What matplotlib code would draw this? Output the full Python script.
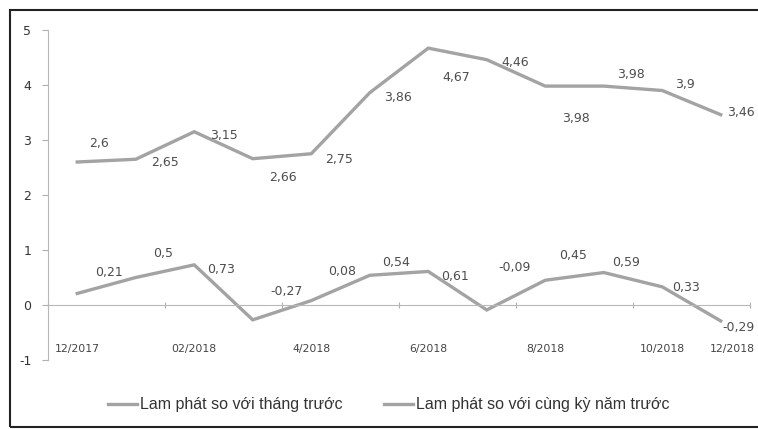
import matplotlib
matplotlib.use("Agg")
import matplotlib.pyplot as plt
from matplotlib.lines import Line2D
from matplotlib.patches import Rectangle

# ---- data ----
months = ["12/2017", "01/2018", "02/2018", "03/2018", "4/2018", "05/2018",
          "6/2018", "07/2018", "8/2018", "09/2018", "10/2018", "11/2018"]
tick_labels = ["12/2017", "02/2018", "4/2018", "6/2018", "8/2018", "10/2018", "12/2018"]
yoy = [2.6, 2.65, 3.15, 2.66, 2.75, 3.86, 4.67, 4.46, 3.98, 3.98, 3.9, 3.46]
mom = [0.21, 0.5, 0.73, -0.27, 0.08, 0.54, 0.61, -0.09, 0.45, 0.59, 0.33, -0.29]
series_names = ["Lam phát so với tháng trước", "Lam phát so với cùng kỳ năm trước"]

# ---- label offsets (pixels) ----
yoy_off = [(22, 19), (29, -3), (30, -4), (30, -19), (28, -6), (28, -5),
           (28, -29), (28, -3), (31, -32), (27, 12), (23, 6), (20, 2)]
mom_off = [(32, 21), (27, 24), (27, -5), (34, 28), (31, 29), (26, 13),
           (27, -5), (28, 42), (28, 25), (22, 10), (24, -1), (18, -7)]

LINE = "#a3a3a3"
TXT = "#4d4d4d"

fig = plt.figure(figsize=(7.58, 4.29), dpi=100)
ax = fig.add_axes([48/758, 1-360/429, (750-48)/758, (360-30)/429])

x = list(range(len(months)))
ax.plot(x, yoy, color=LINE, lw=2.4, solid_joinstyle="miter")
ax.plot(x, mom, color=LINE, lw=2.4, solid_joinstyle="miter")

def fmt(v):
    return ("%g" % v).replace(".", ",")

for xi, v, (dx, dy) in zip(x, yoy, yoy_off):
    ax.annotate(fmt(v), (xi, v), xytext=(dx, dy), textcoords="offset pixels",
                ha="center", va="center", fontsize=9, color=TXT)
for xi, v, (dx, dy) in zip(x, mom, mom_off):
    ax.annotate(fmt(v), (xi, v), xytext=(dx, dy), textcoords="offset pixels",
                ha="center", va="center", fontsize=9, color=TXT)

ax.set_xlim(-0.5, len(months) - 0.5)
ax.set_ylim(-1, 5)
ax.set_yticks([-1, 0, 1, 2, 3, 4, 5])
ax.set_yticklabels(["-1", "0", "1", "2", "3", "4", "5"])
ax.tick_params(axis="y", colors="#b0b0b0", labelcolor="#333333", labelsize=9,
               length=4, width=0.8, pad=8)

for s in ["top", "right"]:
    ax.spines[s].set_visible(False)
ax.spines["left"].set_color("#b8b8b8")
ax.spines["left"].set_linewidth(0.8)
ax.spines["bottom"].set_position(("data", 0))
ax.spines["bottom"].set_color("#b8b8b8")
ax.spines["bottom"].set_linewidth(0.8)

ax.set_xticks([0, 2, 4, 6, 8, 10, 11.2])
ax.set_xticklabels(tick_labels)
ax.set_xticks([-0.5, 1.5, 3.5, 5.5, 7.5, 9.5, 11.5], minor=True)
ax.tick_params(axis="x", which="major", length=0, pad=28, labelsize=7.8,
               labelcolor="#444444")
ax.tick_params(axis="x", which="minor", length=4, width=0.8, color="#b0b0b0",
               direction="inout")
ax.patch.set_alpha(0)

handles = [Line2D([], [], color=LINE, lw=2.4) for _ in series_names]
fig.legend(handles, series_names, loc="center", bbox_to_anchor=(0.513, 0.056),
           ncol=2, frameon=False, handlelength=1.8, handletextpad=0.2,
           columnspacing=2.6,
           prop={"family": "Liberation Sans", "size": 11.5}, labelcolor="#333333")

fig.patches.append(Rectangle((10/758, 2/429), 760/758, 417/429,
                             transform=fig.transFigure, fill=False,
                             edgecolor="#222222", lw=1.5))

fig.savefig("out.png", dpi=100)
